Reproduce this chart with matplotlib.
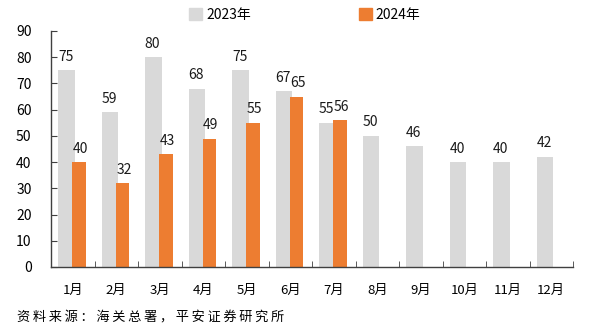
import numpy as np
import matplotlib.pyplot as plt
from matplotlib.patches import Patch

plt.rcParams['font.family'] = ['Noto Sans CJK SC', 'DejaVu Sans']

# data
months = ['1月', '2月', '3月', '4月', '5月', '6月', '7月', '8月', '9月', '10月', '11月', '12月']
v2023 = [75, 59, 80, 68, 75, 67, 55, 50, 46, 40, 40, 42]
v2024 = [40, 32, 43, 49, 55, 65, 56]
source = '资料来源：海关总署，平安证券研究所'

gray = '#d9d9d9'
orange = '#ed7d31'

fig = plt.figure(figsize=(5.9, 3.35), dpi=100)
ax = fig.add_axes([51 / 590, 1 - 267 / 335, (573 - 51) / 590, (267 - 31) / 335])

x = np.arange(len(months))
x24 = np.arange(len(v2024))
off = 0.145
ax.bar(x - off, v2023, width=0.38, color=gray, zorder=1)
ax.bar(x24 + off, v2024, width=0.31, color=orange, zorder=2)

for xi, v in zip(x, v2023):
    ax.text(xi - off - 0.02, v + 2.5, str(v), ha='center', va='bottom', fontsize=10, color='#1a1a1a', zorder=3)
for xi, v in zip(x24, v2024):
    ax.text(xi + off + 0.03, v + 2.5, str(v), ha='center', va='bottom', fontsize=10, color='#1a1a1a', zorder=3)

ax.set_xlim(-0.5, len(months) - 0.5)
ax.set_ylim(0, 90)
ax.set_yticks(range(0, 91, 10))
ax.set_xticks(x)
ax.set_xticklabels(months, fontsize=9.5)
ax.set_xticks(np.arange(-0.5, len(months)), minor=True)
ax.tick_params(axis='x', which='major', length=0, pad=12)
ax.tick_params(axis='x', which='minor', direction='in', length=4, color='#404040')
ax.tick_params(axis='y', direction='in', length=4, labelsize=10, color='#404040', pad=14)
for s in ['top', 'right']:
    ax.spines[s].set_visible(False)
for s in ['left', 'bottom']:
    ax.spines[s].set_color('#404040')
    ax.spines[s].set_linewidth(1)

handles = [Patch(color=gray, label='2023年'), Patch(color=orange, label='2024年')]
fig.legend(handles=handles, loc='center', bbox_to_anchor=(305 / 590, 1 - 15 / 335), ncol=2,
           frameon=False, fontsize=10, handlelength=0.9, handleheight=0.9,
           handletextpad=0.3, columnspacing=7.8)

fig.text(17 / 590, 1 - 318 / 335, '\u2009'.join(source), fontsize=9.5, va='center', ha='left')

fig.savefig('out.png', dpi=100)
